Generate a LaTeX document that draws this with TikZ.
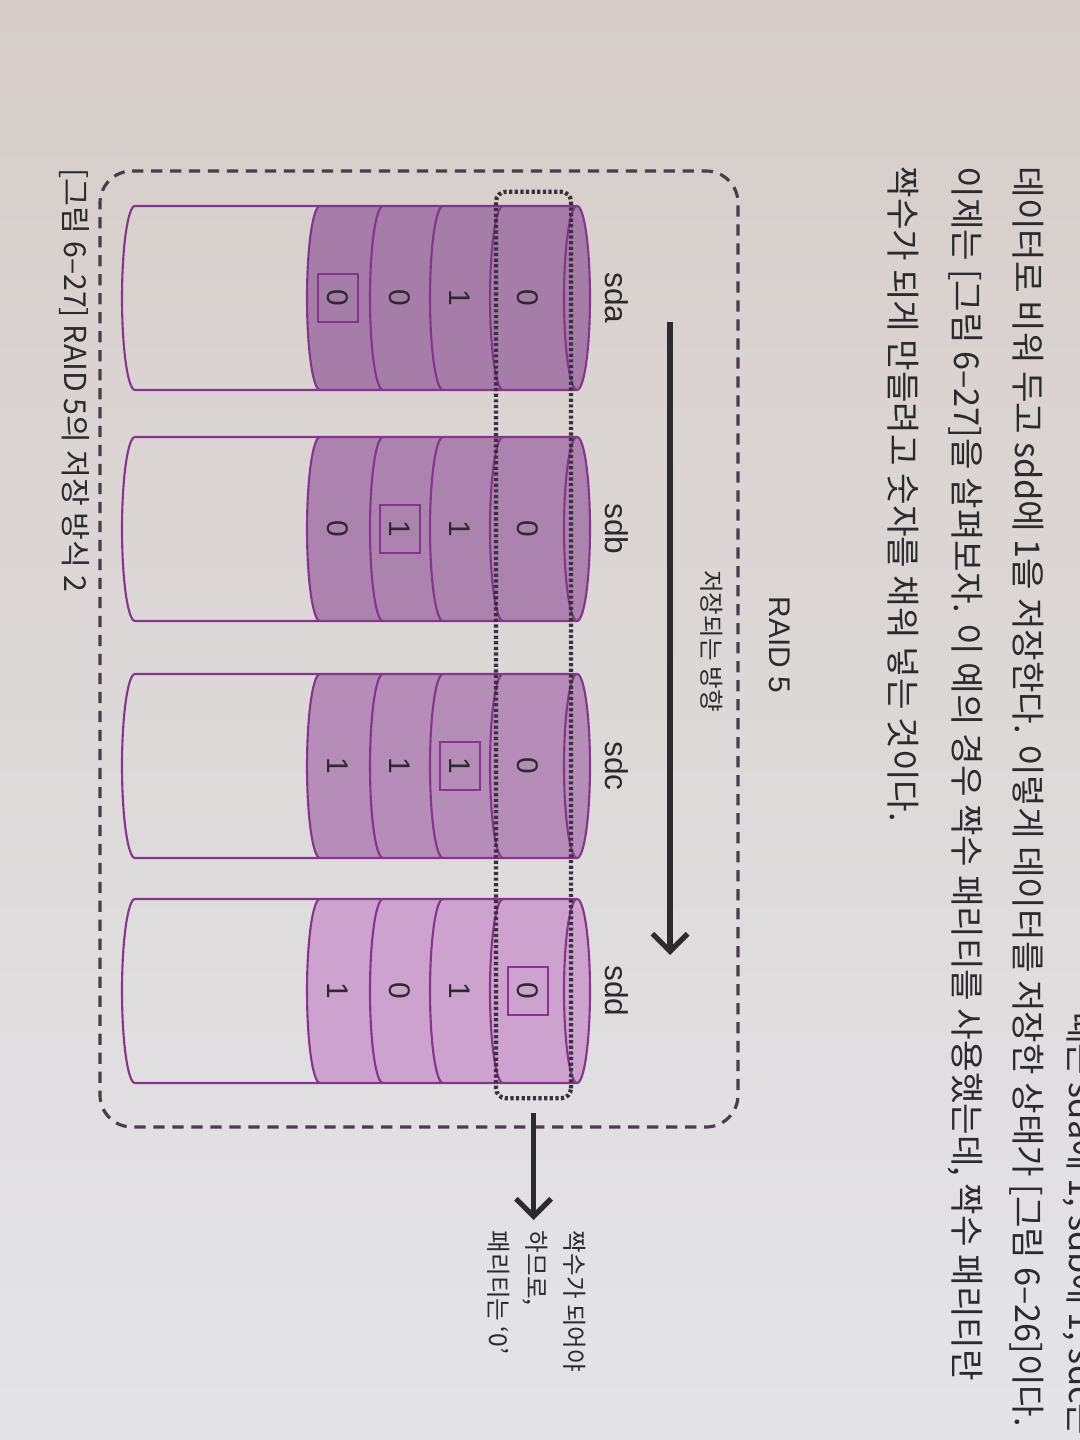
\documentclass[tikz,border=0pt]{standalone}
\usepackage{fontspec}
\setmainfont{Noto Sans CJK KR}
\newfontfamily\labelfont{Liberation Sans}
\usetikzlibrary{arrows.meta}

\definecolor{paperTop}{HTML}{D6CDC9}
\definecolor{paperBottom}{HTML}{E4E4E8}
\definecolor{diskLine}{HTML}{86358C}
\definecolor{diskA}{HTML}{A67CA8}
\definecolor{diskB}{HTML}{AC82AE}
\definecolor{diskC}{HTML}{B68CB8}
\definecolor{diskD}{HTML}{CDA2CF}
\definecolor{ink}{HTML}{2B2B2E}
\definecolor{frame}{HTML}{4A3C4C}

\tikzset{
    disk/.style={diskLine, line width=0.6pt},
    bit/.style={font=\labelfont\fontsize{8.5}{10}\selectfont, text=ink, inner sep=0pt},
    parity/.style={bit, draw=diskLine, line width=0.6pt, minimum width=0.48cm, minimum height=0.40cm},
    disklabel/.style={font=\labelfont\fontsize{9}{11}\selectfont, text=ink},
    flow/.style={-{Straight Barb[length=5pt,width=10pt]}, line width=1.5pt, ink},
    group/.style={frame, line width=0.9pt, dash pattern=on 3.2pt off 2.2pt, rounded corners=0.32cm},
    stripebox/.style={draw=frame!80!black, line width=1.2pt, dash pattern=on 0.9pt off 0.7pt, rounded corners=0.1cm, inner sep=0pt, outer sep=0pt},
    body/.style={font=\fontsize{9.75}{12}\selectfont, text=ink, inner sep=0pt},
    note/.style={font=\fontsize{7}{10.8}\selectfont, text=ink, align=left, inner sep=0pt}
}

% one drive: centre u, fill colour
\newcommand{\Disk}[2]{
    \fill[#2] (#1-92,320) arc[start angle=180,end angle=360,x radius=92,y radius=13] -- (#1+92,577) arc[start angle=0,end angle=180,x radius=92,y radius=13] -- cycle;
    \draw[disk] (#1-92,577) -- (#1-92,135) arc[start angle=180,end angle=360,x radius=92,y radius=13] -- (#1+92,577);
    \draw[disk] (#1,577) ellipse[x radius=92,y radius=13];
    \draw[disk] (#1-92,320) arc[start angle=180,end angle=360,x radius=92,y radius=13];
    \draw[disk] (#1-92,383) arc[start angle=180,end angle=360,x radius=92,y radius=13];
    \draw[disk] (#1-92,443) arc[start angle=180,end angle=360,x radius=92,y radius=13];
    \draw[disk] (#1-92,503) arc[start angle=180,end angle=360,x radius=92,y radius=13];
}

\begin{document}
\begin{tikzpicture}[x=0.01cm,y=0.01cm]
    \shade[top color=paperTop, bottom color=paperBottom] (0,0) rectangle (1080,-1440);
    \clip (0,0) rectangle (1080,-1440);
    \begin{scope}[rotate=-90, transform shape]
        % page text
        \node[body, anchor=east] (line0) at (1436,1080) {때는 sda에 1, sdb에 1, sdc는};
        \node[body, anchor=west] (line1) at (166,1027) {데이터로 비워 두고 sdd에 1을 저장한다. 이렇게 데이터를 저장한 상태가 [그림 6–26]이다.};
        \node[body, anchor=west] (line2) at (166,965) {이제는 [그림 6–27]을 살펴보자. 이 예의 경우 짝수 패리티를 사용했는데, 짝수 패리티란};
        \node[body, anchor=west] (line3) at (166,903) {짝수가 되게 만들려고 숫자를 채워 넣는 것이다.};

        \node[font=\labelfont\fontsize{8.5}{10}\selectfont, text=ink] (raid) at (645,780) {RAID 5};
        \draw[group] (171,100) rectangle (1127,738);

        \coordinate (dirstart) at (322,670);
        \coordinate (dirend) at (955,670);
        \draw[flow] (dirstart) -- (dirend);
        \node[font=\fontsize{7}{9}\selectfont, text=ink] (dir) at (641,712) {저장되는 방향};

        % drives
        \foreach \u/\name/\col in {298/sda/diskA, 529/sdb/diskB, 766/sdc/diskC, 991/sdd/diskD}{
            \Disk{\u}{\col}
            \node[disklabel] (\name) at (\u,617) {\name};
        }

        \node[bit] (sda-1) at (298,528) {0};
        \node[bit] (sda-2) at (298,460) {1};
        \node[bit] (sda-3) at (298,400) {0};
        \node[parity] (sda-4) at (298,338) {0};

        \node[bit] (sdb-1) at (529,528) {0};
        \node[bit] (sdb-2) at (529,460) {1};
        \node[parity] (sdb-3) at (529,400) {1};
        \node[bit] (sdb-4) at (529,338) {0};

        \node[bit] (sdc-1) at (766,528) {0};
        \node[parity] (sdc-2) at (766,460) {1};
        \node[bit] (sdc-3) at (766,400) {1};
        \node[bit] (sdc-4) at (766,338) {1};

        \node[parity] (sdd-1) at (991,528) {0};
        \node[bit] (sdd-2) at (991,460) {1};
        \node[bit] (sdd-3) at (991,400) {0};
        \node[bit] (sdd-4) at (991,338) {1};

        % first stripe and its parity
        \node[stripebox, minimum width=9.06cm, minimum height=0.75cm] (stripe) at (645,533.5) {};
        \node[note, anchor=west] (even) at (1230,537) {짝수가 되어야\\하므로,\\패리티는 ‘0’};
        \draw[flow, shorten <=0.15cm, shorten >=0.1cm] (stripe.east) -- (even.west |- stripe.east);

        \node[font=\fontsize{8.6}{10}\selectfont, text=ink, anchor=west, inner sep=0pt] (caption) at (168,74) {[그림 6–27] RAID 5의 저장 방식 2};
    \end{scope}
\end{tikzpicture}
\end{document}
